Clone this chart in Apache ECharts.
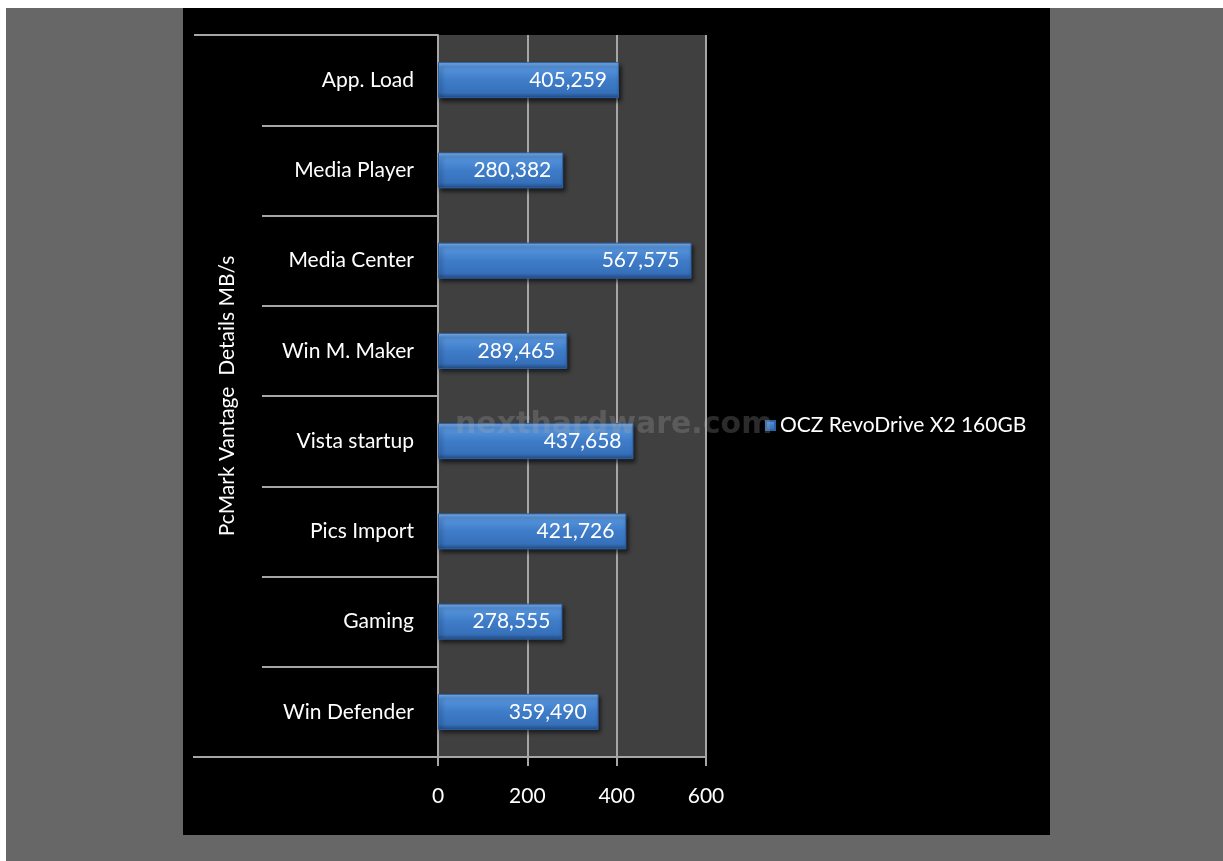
<!DOCTYPE html>
<html><head><meta charset="utf-8">
<script src="https://cdn.jsdelivr.net/npm/echarts@6/dist/echarts.min.js"></script>
<style>
html,body{margin:0;padding:0;background:#fff;width:1223px;height:861px;overflow:hidden}
#gray{position:absolute;left:6px;top:8px;width:1217px;height:853px;background:#676767}
#panel{position:absolute;left:183px;top:8px;width:867px;height:827px;background:#000}
#c{position:absolute;left:0;top:0;width:1223px;height:861px}
</style></head>
<body>
<div id="gray"></div><div id="panel"></div><div id="c"></div>
<script>
const categories = ['App. Load','Media Player','Media Center','Win M. Maker','Vista startup','Pics Import','Gaming','Win Defender'];
const values = [405.259, 280.382, 567.575, 289.465, 437.658, 421.726, 278.555, 359.490];
const seriesName = 'OCZ RevoDrive X2 160GB';
const xTicks = [0, 200, 400, 600];
const yTitle = 'PcMark Vantage  Details MB/s';

const chart = echarts.init(document.getElementById('c'));
const font = 'Lato, "Open Sans", sans-serif';
chart.setOption({
  backgroundColor: 'transparent',
  animation: false,
  grid: {left: 438, right: 517, top: 35, bottom: 104, show: true, backgroundColor: '#404040', borderWidth: 0},
  legend: {
    left: 760, top: 410, icon: 'rect', itemWidth: 9, itemHeight: 9, itemGap: 8,
    textStyle: {color: '#fff', fontSize: 21, fontFamily: font},
    data: [seriesName]
  },
  xAxis: {
    type: 'value', min: xTicks[0], max: xTicks[xTicks.length-1], interval: 200,
    axisLine: {show: true, lineStyle: {color: '#a6a6a6', width: 2}},
    axisTick: {show: true, length: 9, lineStyle: {color: '#a6a6a6', width: 2}},
    axisLabel: {color: '#fff', fontSize: 21, fontFamily: font, margin: 29},
    splitLine: {show: true, lineStyle: {color: '#a6a6a6', width: 2}}
  },
  yAxis: {
    type: 'category', data: categories, inverse: true,
    name: yTitle, nameLocation: 'middle', nameGap: 200, nameRotate: 90,
    nameTextStyle: {color: '#fff', fontSize: 21, fontFamily: font},
    axisLine: {show: true, lineStyle: {color: '#a6a6a6', width: 2}},
    axisTick: {show: true, length: 176, lineStyle: {color: '#a6a6a6', width: 2}},
    axisLabel: {color: '#fff', fontSize: 21, fontFamily: font, margin: 24},
    splitLine: {show: false}
  },
  series: [{
    name: seriesName, type: 'bar', data: values, barWidth: 36,
    itemStyle: {
      color: new echarts.graphic.LinearGradient(0,0,0,1,[
        {offset: 0, color: '#86b6ef'},
        {offset: 0.12, color: '#5896de'},
        {offset: 0.5, color: '#3f7cc8'},
        {offset: 0.85, color: '#3670ba'},
        {offset: 1, color: '#22497e'}
      ]),
      borderColor: '#2e62a6', borderWidth: 1,
      shadowColor: 'rgba(0,0,0,0.6)', shadowBlur: 4, shadowOffsetX: 2, shadowOffsetY: 3
    },
    label: {
      show: true, position: 'insideRight', distance: 12, color: '#fff', fontSize: 21, fontFamily: font,
      formatter: p => p.value.toFixed(3).replace('.', ',')
    }
  }],
  graphic: [
    {type: 'line', shape: {x1: 194, y1: 35, x2: 438, y2: 35}, style: {stroke: '#a6a6a6', lineWidth: 2}, z: 5},
    {type: 'line', shape: {x1: 193, y1: 757, x2: 438, y2: 757}, style: {stroke: '#a6a6a6', lineWidth: 2}, z: 5},
    {type: 'text', left: 455, top: 410, z: 10, silent: true,
     style: {text: 'nexthardware.com', fill: 'rgba(170,170,170,0.25)', font: 'bold 30px "DejaVu Sans", sans-serif'}}
  ]
});
</script>
</body></html>
